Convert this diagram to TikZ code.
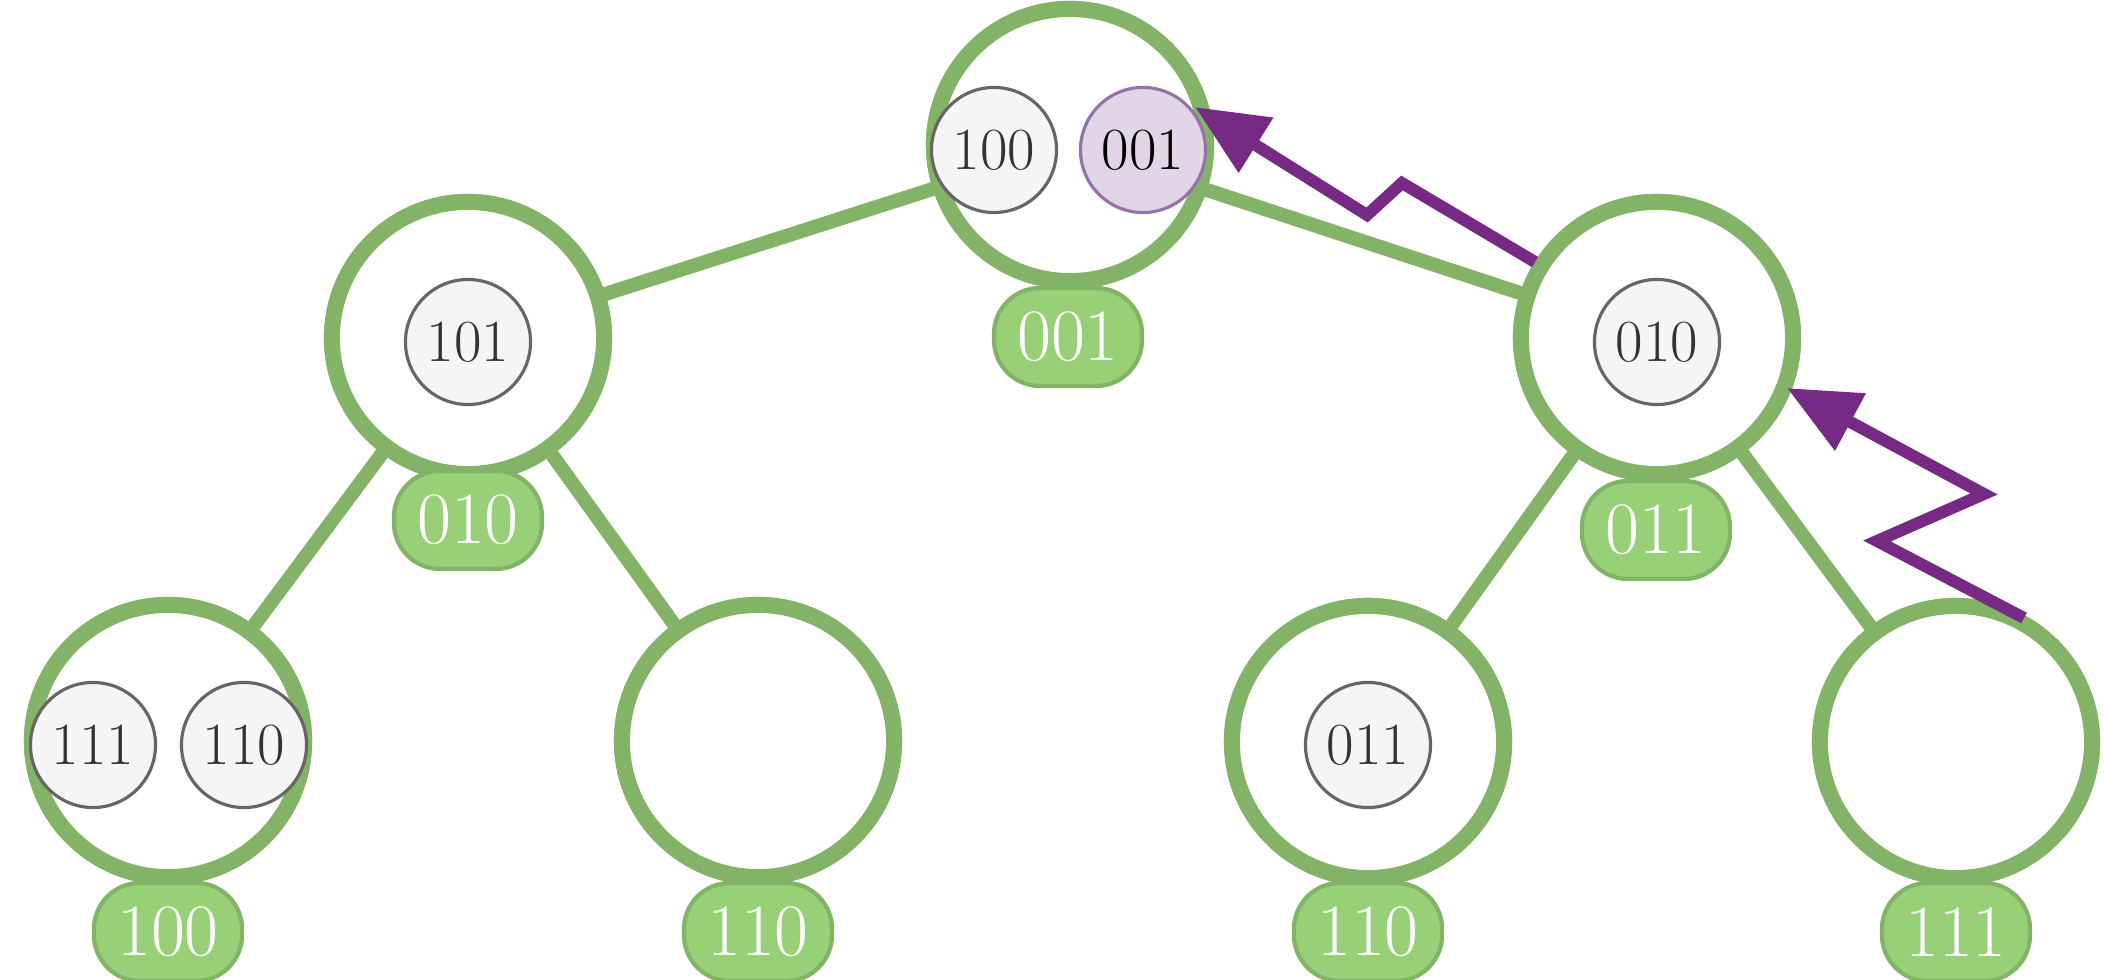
\documentclass[tikz,border=0pt]{standalone}
\usetikzlibrary{arrows.meta}
\definecolor{gring}{HTML}{82B366}
\definecolor{gfill}{HTML}{97D077}
\definecolor{sfill}{HTML}{F5F5F5}
\definecolor{sdraw}{HTML}{666666}
\definecolor{pfill}{HTML}{E1D5E7}
\definecolor{pdraw}{HTML}{9673A6}
\definecolor{parrow}{HTML}{772A84}
\definecolor{txt}{HTML}{333333}
\tikzset{
  bignode/.style={circle,draw=gring,fill=white,line width=4.55pt,minimum size=2.72cm,inner sep=0pt},
  keynode/.style={circle,draw=sdraw,fill=sfill,line width=0.9pt,minimum size=1.25cm,inner sep=0pt,text=txt,font=\fontsize{17}{17}\selectfont},
  hlnode/.style={keynode,draw=pdraw,fill=pfill,text=black},
  tagnode/.style={rectangle,rounded corners=0.46cm,draw=gring,fill=gfill,line width=1.2pt,minimum width=1.48cm,minimum height=0.98cm,inner sep=0pt,text=white,font=\fontsize{21}{21}\selectfont},
  treeedge/.style={draw=gring,line width=4pt},
  hop/.style={draw=parrow,line width=3.4pt,miter limit=10,-{Triangle[length=0.72cm,width=0.62cm]}}
}
\begin{document}
\begin{tikzpicture}[x=0.01cm,y=-0.01cm]
\useasboundingbox (0,0) rectangle (2105,980);
\clip (0,0) rectangle (2105,980);
% big nodes
\node[bignode] (t) at (1070,145) {};
\node[bignode] (l) at (468,338) {};
\node[bignode] (r) at (1657,338) {};
\node[bignode] (ll) at (168,741) {};
\node[bignode] (lr) at (758,741) {};
\node[bignode] (rl) at (1368,742) {};
\node[bignode] (rr) at (1956,742) {};
% edges
\begin{scope}[on background layer/.style={}]
\end{scope}
\path[treeedge] (t) -- (l);
\path[treeedge] (t) -- (r);
\path[treeedge] (l) -- (ll);
\path[treeedge] (l) -- (lr);
\path[treeedge] (r) -- (rl);
\path[treeedge] (r) -- (rr);
% redraw big nodes on top of edges
\node[bignode] at (1070,145) {};
\node[bignode] at (468,338) {};
\node[bignode] at (1657,338) {};
\node[bignode] at (168,741) {};
\node[bignode] at (758,741) {};
\node[bignode] at (1368,742) {};
\node[bignode] at (1956,742) {};
% tags
\node[tagnode] (tt) at (1068,337) {001};
\node[tagnode] (tl) at (468,520) {010};
\node[tagnode] (tr) at (1656,530) {011};
\node[tagnode] (tll) at (168,932) {100};
\node[tagnode] (tlr) at (758,932) {110};
\node[tagnode] (trl) at (1368,932) {110};
\node[tagnode] (trr) at (1956,932) {111};
% keys
\node[keynode] (k1) at (994,150) {100};
\node[hlnode] (k2) at (1143,150) {001};
\node[keynode] (k3) at (468,342) {101};
\node[keynode] (k4) at (1657,342) {010};
\node[keynode] (k5) at (93,745) {111};
\node[keynode] (k6) at (244,745) {110};
\node[keynode] (k7) at (1368,745) {011};
% arrows
\coordinate (a1s) at (1535,262);
\coordinate (a1b) at (1402,183);
\coordinate (a1c) at (1367,215);
\coordinate (a1t) at (1195,107);
\coordinate (a2s) at (2024,618);
\coordinate (a2b) at (1877,541);
\coordinate (a2c) at (1984,494);
\coordinate (a2t) at (1787,388);
\draw[hop] (a1s) -- (a1b) -- (a1c) -- (a1t);
\draw[hop] (a2s) -- (a2b) -- (a2c) -- (a2t);
\end{tikzpicture}
\end{document}
